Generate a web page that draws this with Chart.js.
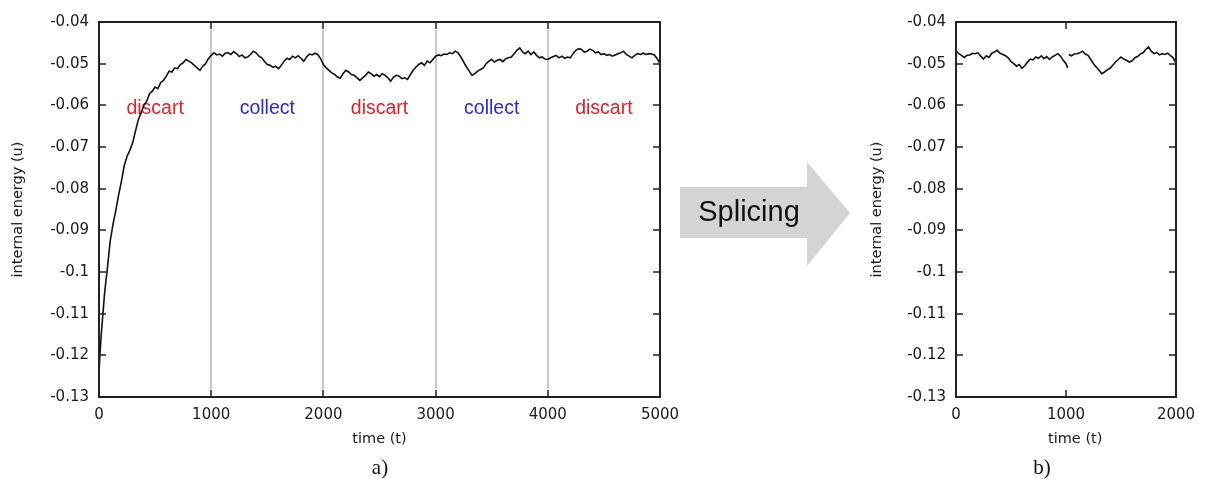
<!DOCTYPE html>
<html lang="en">
<head>
  <meta charset="UTF-8">
  <title>Internal energy - splicing</title>
  <script src="https://cdn.jsdelivr.net/npm/chart.js"></script>
  <style>
    body { margin: 0; background: #fff; width: 1211px; height: 479px; position: relative; overflow: hidden; }
    canvas { position: absolute; top: 0; }
    #chartA { left: 0; }
    #chartB { left: 850px; }
    .tag { position: absolute; font-family: "Liberation Serif", "Times New Roman", serif; font-size: 21px; color: #111; transform: translate(-50%, -50%); }
    svg { position: absolute; left: 0; top: 0; }
  </style>
</head>
<body>
  <canvas id="chartA" width="690" height="479"></canvas>
  <canvas id="chartB" width="361" height="479"></canvas>

  <svg width="1211" height="479">
    <polygon points="680,187 807,187 807,162 850,213 807,266 807,238 680,238" fill="#d4d4d4"/>
    <text x="749" y="221" text-anchor="middle" font-family="Liberation Sans, Arial, sans-serif" font-size="29" fill="#111">Splicing</text>
  </svg>

  <div class="tag" style="left:380px; top:467px;">a)</div>
  <div class="tag" style="left:1042px; top:467px;">b)</div>

  <script>
    // full run (a)
    const leftTime = [
      0, 10, 20, 35, 50,
      75, 100, 125, 150, 175, 200, 225, 250, 275, 300,
      325, 350, 375, 400, 425, 450, 475, 500, 525, 550,
      575, 600, 625, 650, 675, 700, 725, 750, 775, 800,
      825, 850, 875, 900, 925, 950, 975, 1000, 1025, 1050,
      1075, 1100, 1125, 1150, 1175, 1200, 1225, 1250, 1275, 1300,
      1325, 1350, 1375, 1400, 1425, 1450, 1475, 1500, 1525, 1550,
      1575, 1600, 1625, 1650, 1675, 1700, 1725, 1750, 1775, 1800,
      1825, 1850, 1875, 1900, 1925, 1950, 1975, 2000, 2025, 2050,
      2075, 2100, 2125, 2150, 2175, 2200, 2225, 2250, 2275, 2300,
      2325, 2350, 2375, 2400, 2425, 2450, 2475, 2500, 2525, 2550,
      2575, 2600, 2625, 2650, 2675, 2700, 2725, 2750, 2775, 2800,
      2825, 2850, 2875, 2900, 2925, 2950, 2975, 3000, 3025, 3050,
      3075, 3100, 3125, 3150, 3175, 3200, 3225, 3250, 3275, 3300,
      3325, 3350, 3375, 3400, 3425, 3450, 3475, 3500, 3525, 3550,
      3575, 3600, 3625, 3650, 3675, 3700, 3725, 3750, 3775, 3800,
      3825, 3850, 3875, 3900, 3925, 3950, 3975, 4000, 4025, 4050,
      4075, 4100, 4125, 4150, 4175, 4200, 4225, 4250, 4275, 4300,
      4325, 4350, 4375, 4400, 4425, 4450, 4475, 4500, 4525, 4550,
      4575, 4600, 4625, 4650, 4675, 4700, 4725, 4750, 4775, 4800,
      4825, 4850, 4875, 4900, 4925, 4950, 4975, 5000
    ];
    const leftEnergy = [
      -0.1240, -0.1190, -0.1150, -0.1100, -0.1050,
      -0.0990, -0.0925, -0.0885, -0.0852, -0.0815, -0.0782, -0.0745, -0.0722, -0.0708, -0.0690,
      -0.0662, -0.0635, -0.0618, -0.0600, -0.0590, -0.0572, -0.0566, -0.0556, -0.0560, -0.0545,
      -0.0540, -0.0530, -0.0518, -0.0520, -0.0510, -0.0512, -0.0502, -0.0498, -0.0490, -0.0494,
      -0.0498, -0.0504, -0.0510, -0.0516, -0.0506, -0.0500, -0.0488, -0.0480, -0.0474, -0.0479,
      -0.0477, -0.0482, -0.0475, -0.0474, -0.0478, -0.0471, -0.0476, -0.0483, -0.0479, -0.0486,
      -0.0484, -0.0478, -0.0470, -0.0474, -0.0482, -0.0486, -0.0495, -0.0502, -0.0504, -0.0509,
      -0.0506, -0.0512, -0.0504, -0.0494, -0.0487, -0.0490, -0.0482, -0.0486, -0.0481, -0.0487,
      -0.0494, -0.0484, -0.0477, -0.0479, -0.0475, -0.0478, -0.0488, -0.0502, -0.0510, -0.0516,
      -0.0522, -0.0526, -0.0532, -0.0535, -0.0524, -0.0516, -0.0520, -0.0526, -0.0528, -0.0534,
      -0.0540, -0.0534, -0.0528, -0.0520, -0.0524, -0.0530, -0.0526, -0.0531, -0.0524, -0.0528,
      -0.0534, -0.0542, -0.0532, -0.0528, -0.0530, -0.0536, -0.0534, -0.0538, -0.0526, -0.0516,
      -0.0508, -0.0502, -0.0498, -0.0504, -0.0494, -0.0498, -0.0490, -0.0482, -0.0479, -0.0481,
      -0.0477, -0.0478, -0.0474, -0.0476, -0.0470, -0.0474, -0.0484, -0.0496, -0.0508, -0.0518,
      -0.0528, -0.0524, -0.0518, -0.0514, -0.0510, -0.0500, -0.0494, -0.0490, -0.0496, -0.0492,
      -0.0490, -0.0495, -0.0488, -0.0486, -0.0484, -0.0476, -0.0468, -0.0462, -0.0472, -0.0476,
      -0.0470, -0.0478, -0.0472, -0.0480, -0.0486, -0.0484, -0.0489, -0.0490, -0.0486, -0.0483,
      -0.0480, -0.0486, -0.0482, -0.0487, -0.0484, -0.0486, -0.0476, -0.0468, -0.0464, -0.0466,
      -0.0472, -0.0470, -0.0465, -0.0468, -0.0474, -0.0472, -0.0478, -0.0476, -0.0480, -0.0478,
      -0.0482, -0.0479, -0.0476, -0.0474, -0.0470, -0.0478, -0.0482, -0.0486, -0.0480, -0.0476,
      -0.0478, -0.0475, -0.0478, -0.0476, -0.0477, -0.0479, -0.0488, -0.0500
    ];

    // spliced collect phases (b), null = join between the two pieces
    const rightTime = [
      0, 25, 50, 75, 100, 125, 150, 175, 200, 225,
      250, 275, 300, 325, 350, 375, 400, 425, 450, 475,
      500, 525, 550, 575, 600, 625, 650, 675, 700, 725,
      750, 775, 800, 825, 850, 875, 900, 925, 950, 975,
      1000, 1015, 1020, 1025, 1050, 1075, 1100, 1125, 1150, 1175,
      1200, 1225, 1250, 1275, 1300, 1325, 1350, 1375, 1400, 1425,
      1450, 1475, 1500, 1525, 1550, 1575, 1600, 1625, 1650, 1675,
      1700, 1725, 1750, 1775, 1800, 1825, 1850, 1875, 1900, 1925,
      1950, 1975, 2000
    ];
    const rightEnergy = [
      -0.0468, -0.0476, -0.0480, -0.0485, -0.0480, -0.0479, -0.0475, -0.0476, -0.0474, -0.0482,
      -0.0489, -0.0481, -0.0485, -0.0475, -0.0472, -0.0468, -0.0475, -0.0478, -0.0481, -0.0486,
      -0.0495, -0.0500, -0.0506, -0.0502, -0.0511, -0.0505, -0.0496, -0.0489, -0.0491, -0.0484,
      -0.0487, -0.0481, -0.0488, -0.0483, -0.0490, -0.0484, -0.0480, -0.0476, -0.0482, -0.0492,
      -0.0500, -0.0510, null, -0.0478, -0.0481, -0.0477, -0.0476, -0.0474, -0.0470, -0.0477,
      -0.0480, -0.0490, -0.0500, -0.0508, -0.0516, -0.0524, -0.0520, -0.0515, -0.0511, -0.0504,
      -0.0496, -0.0490, -0.0484, -0.0489, -0.0492, -0.0496, -0.0493, -0.0486, -0.0483, -0.0477,
      -0.0474, -0.0466, -0.0460, -0.0470, -0.0476, -0.0473, -0.0479, -0.0476, -0.0478, -0.0475,
      -0.0481, -0.0486, -0.0499
    ];

    const phaseBounds = [0, 1000, 2000, 3000, 4000, 5000];
    const phaseNames = ['discart', 'collect', 'discart', 'collect', 'discart'];
    const phaseLabelLevel = -0.0607;
    const phaseColor = { discart: '#e3212b', collect: '#2a2ad2' };

    const tickFont = { family: 'DejaVu Sans', size: 15 };
    const titleFont = { family: 'DejaVu Sans', size: 14.5 };

    const framePlugin = {
      id: 'frame',
      beforeDatasetsDraw(chart, args, opts) {
        const { ctx, chartArea: a, scales: { x, y } } = chart;
        ctx.save();
        ctx.strokeStyle = '#c8c8c8';
        ctx.lineWidth = 2;
        (opts.dividers || []).forEach(t => {
          const px = Math.round(x.getPixelForValue(t));
          ctx.beginPath();
          ctx.moveTo(px, a.top + 8);
          ctx.lineTo(px, a.bottom - 8);
          ctx.stroke();
        });
        if (opts.names) {
          ctx.font = '19.5px "Liberation Sans", Arial, sans-serif';
          ctx.textAlign = 'center';
          ctx.textBaseline = 'middle';
          opts.names.forEach((name, i) => {
            const mid = (opts.bounds[i] + opts.bounds[i + 1]) / 2;
            ctx.fillStyle = phaseColor[name];
            ctx.fillText(name, x.getPixelForValue(mid), y.getPixelForValue(opts.level));
          });
        }
        ctx.restore();
      },
      afterDatasetsDraw(chart) {
        const { ctx, chartArea: a, scales: { x, y } } = chart;
        const len = 7;
        ctx.save();
        ctx.strokeStyle = '#222';
        ctx.lineWidth = 1.5;
        ctx.beginPath();
        x.ticks.forEach(t => {
          const px = Math.round(x.getPixelForValue(t.value));
          if (px <= a.left + 1 || px >= a.right - 1) return;
          ctx.moveTo(px, a.bottom); ctx.lineTo(px, a.bottom - len);
          ctx.moveTo(px, a.top); ctx.lineTo(px, a.top + len);
        });
        y.ticks.forEach(t => {
          const py = Math.round(y.getPixelForValue(t.value));
          if (py <= a.top + 1 || py >= a.bottom - 1) return;
          ctx.moveTo(a.left, py); ctx.lineTo(a.left + len, py);
          ctx.moveTo(a.right, py); ctx.lineTo(a.right - len, py);
        });
        ctx.stroke();
        ctx.lineWidth = 2;
        ctx.strokeRect(a.left, a.top, a.width, a.height);
        ctx.restore();
      }
    };

    function makeChart(id, times, energies, cfg) {
      new Chart(document.getElementById(id), {
        type: 'line',
        data: {
          datasets: [{
            data: times.map((t, i) => ({ x: t, y: energies[i] })),
            borderColor: '#111',
            borderWidth: 1.6,
            pointRadius: 0,
            tension: 0,
            spanGaps: false
          }]
        },
        options: {
          responsive: false,
          animation: false,
          devicePixelRatio: 1,
          layout: { padding: { left: 0, top: 22, right: cfg.padRight, bottom: 0 } },
          plugins: {
            legend: { display: false },
            tooltip: { enabled: false },
            frame: cfg.frame
          },
          scales: {
            x: {
              type: 'linear',
              min: 0,
              max: cfg.xMax,
              afterFit: s => { s.height = 82; },
              grid: { display: false, drawTicks: false },
              border: { display: false },
              ticks: { stepSize: 1000, autoSkip: false, maxRotation: 0, padding: 9, color: '#1a1a1a', font: tickFont, callback: v => String(v) },
              title: { display: true, text: cfg.xTitle, color: '#1a1a1a', font: titleFont, padding: { top: 4, bottom: 31 } }
            },
            y: {
              min: -0.13,
              max: -0.04,
              afterFit: s => { s.width = cfg.yWidth; },
              grid: { display: false, drawTicks: false },
              border: { display: false },
              ticks: { stepSize: 0.01, autoSkip: false, padding: 10, color: '#1a1a1a', font: tickFont, callback: v => String(+v.toFixed(2)) },
              title: { display: true, text: 'internal energy (u)', color: '#1a1a1a', font: titleFont, padding: { top: cfg.yTitlePad, bottom: 0 } }
            }
          }
        },
        plugins: [framePlugin]
      });
    }

    makeChart('chartA', leftTime, leftEnergy, {
      xMax: 5000, padRight: 30, yWidth: 99, yTitlePad: 10, xTitle: 'time (t)',
      frame: { dividers: phaseBounds.slice(1, -1), names: phaseNames, bounds: phaseBounds, level: phaseLabelLevel }
    });
    makeChart('chartB', rightTime, rightEnergy, {
      xMax: 2000, padRight: 35, yWidth: 106, yTitlePad: 19, xTitle: '    time (t)',
      frame: {}
    });
  </script>
</body>
</html>
